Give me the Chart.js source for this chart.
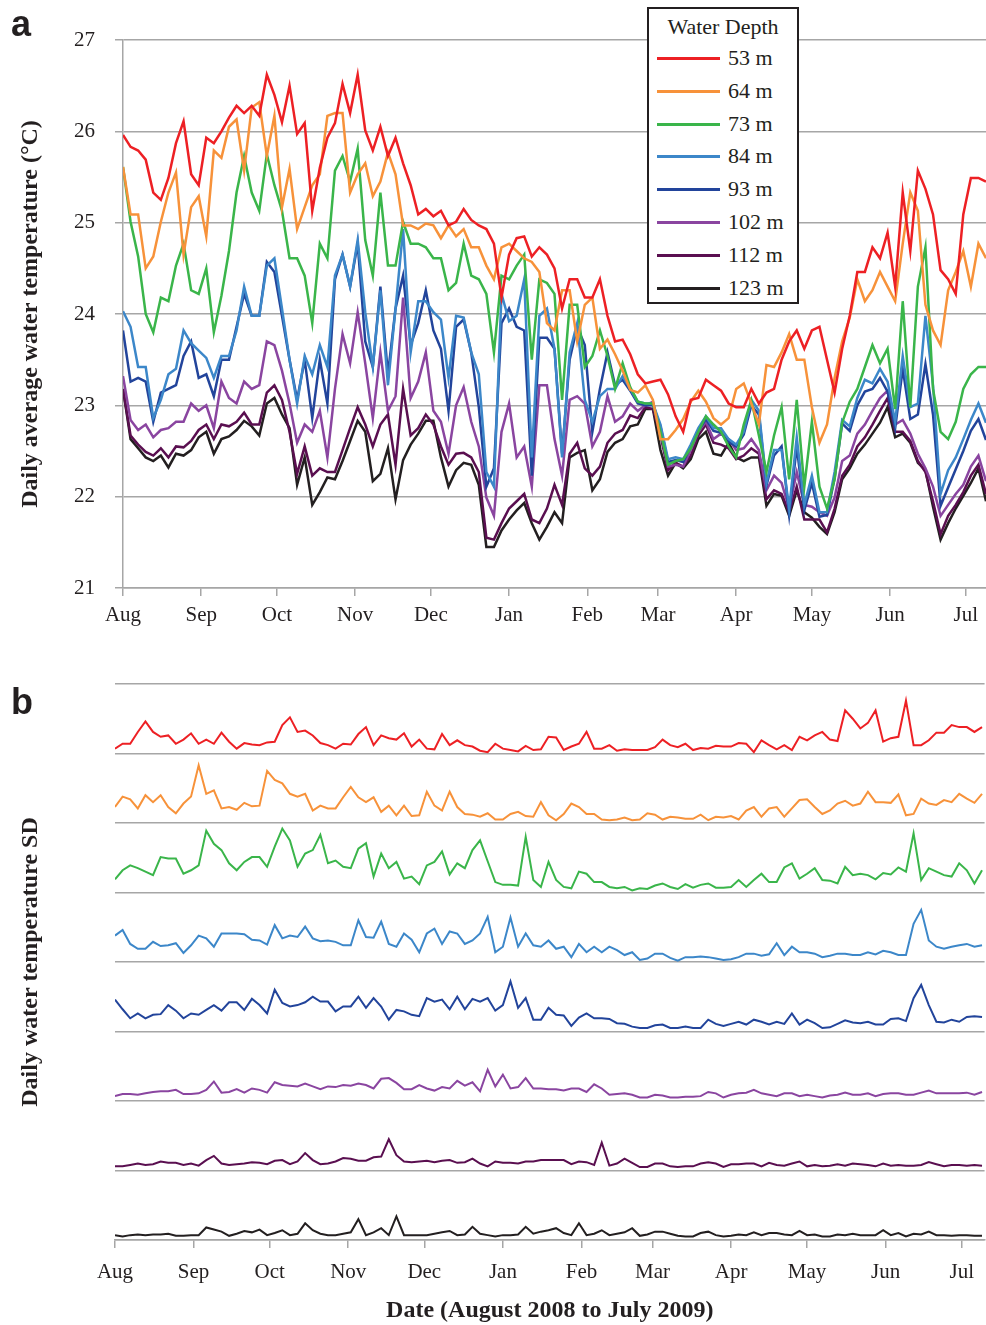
<!DOCTYPE html>
<html lang="en">
<head>
    <meta charset="UTF-8">
    <title>Water temperature by depth</title>
    <script src="https://cdn.jsdelivr.net/npm/chart.js"></script>
    <style>
        body {
            margin: 0;
            background: #fff;
            font-family: 'Liberation Serif', 'Times New Roman', serif;
            color: #231f20;
        }
        #page {
            position: relative;
            width: 986px;
            height: 1325px;
            overflow: hidden;
        }
        #tempChart { position: absolute; left: 0; top: 0; }
        #sdChart { position: absolute; left: 0; top: 650px; }
        .panel {
            position: absolute;
            left: 11px;
            font: bold 36px 'Liberation Sans', Arial, sans-serif;
            line-height: 36px;
        }
        #legend {
            position: absolute;
            left: 647px;
            top: 7px;
            width: 152px;
            height: 297px;
            box-sizing: border-box;
            border: 2px solid #231f20;
            background: #fff;
        }
        #legend .title {
            position: absolute;
            left: 0;
            width: 148px;
            top: 5px;
            text-align: center;
            font-size: 22px;
            line-height: 26px;
        }
        #legend .row {
            position: absolute;
            left: 8px;
            height: 26px;
            font-size: 22px;
            line-height: 26px;
        }
        #legend .swatch {
            position: absolute;
            left: 0;
            top: 12px;
            width: 63px;
            height: 3px;
        }
        #legend .row span {
            position: absolute;
            left: 71px;
            white-space: nowrap;
        }
    </style>
</head>
<body>
<div id="page">
    <canvas id="tempChart" width="986" height="640"></canvas>
    <canvas id="sdChart" width="986" height="675"></canvas>
    <div class="panel" style="top: 6px;">a</div>
    <div class="panel" style="top: 684px;">b</div>
    <div id="legend"><div class="title">Water Depth</div></div>
</div>
<script>
    // day index from 1 Aug 2008, one sample every three days
    const days = [0,3,6,9,12,15,18,21,24,27,30,33,36,39,42,45,48,51,54,57,60,63,66,69,72,75,78,81,
        84,87,90,93,96,99,102,105,108,111,114,117,120,123,126,129,132,135,138,141,144,147,150,153,156,159,162,165,168,
        171,174,177,180,183,186,189,192,195,198,201,204,207,210,213,216,219,222,225,228,231,234,237,240,243,246,249,252,255,
        258,261,264,267,270,273,276,279,282,285,288,291,294,297,300,303,306,309,312,315,318,321,324,327,330,333,336,339,342];

    const monthStarts = [0, 31, 61, 92, 122, 153, 184, 212, 243, 273, 304, 334];
    const monthLabels = ['Aug', 'Sep', 'Oct', 'Nov', 'Dec', 'Jan', 'Feb', 'Mar', 'Apr', 'May', 'Jun', 'Jul'];

    const depthLabels = ['53 m', '64 m', '73 m', '84 m', '93 m', '102 m', '112 m', '123 m'];
    const lineColors = ['#ed2024', '#f7923a', '#3ab54a', '#3c87c9', '#22449b', '#8a45a0', '#5a0f50', '#231f20'];

    // daily average temperature (°C)
    const t53 = [25.96,25.83,25.79,25.69,25.33,25.25,25.49,25.87,26.11,25.53,25.41,25.93,25.87,26.0,26.15,26.28,26.2,26.28,26.17,26.62,26.4,26.1,26.5,25.97,26.09,25.13,25.6,25.93,
        26.09,26.52,26.2,26.62,26.01,25.79,26.05,25.73,25.93,25.65,25.41,25.09,25.15,25.07,25.13,24.97,25.01,25.15,25.03,24.97,24.93,24.77,24.18,24.65,24.83,24.85,24.63,24.73,24.65,
        24.5,24.06,24.38,24.38,24.18,24.18,24.38,23.98,23.7,23.72,23.56,23.34,23.24,23.26,23.28,23.12,22.88,22.71,23.06,23.08,23.28,23.22,23.16,23.02,22.98,22.98,23.18,23.02,23.14,
        23.18,23.5,23.7,23.82,23.62,23.82,23.86,23.5,23.14,23.62,23.98,24.46,24.46,24.73,24.61,24.89,24.3,25.33,24.69,25.57,25.37,25.09,24.48,24.38,24.22,25.09,25.49,25.49,25.45];
    const t64 = [25.61,25.09,25.09,24.5,24.63,25.01,25.33,25.55,24.65,25.17,25.29,24.85,25.79,25.71,26.05,26.13,25.57,26.26,26.32,25.73,26.17,25.17,25.59,24.93,25.17,25.41,25.53,26.17,
        26.2,26.2,25.33,25.53,25.65,25.29,25.45,25.77,25.53,24.97,24.97,24.93,24.99,24.97,24.83,24.97,24.85,24.93,24.73,24.73,24.53,24.38,24.73,24.77,24.69,24.61,24.57,24.46,23.9,
        23.82,24.26,24.26,23.7,24.1,24.18,23.62,23.72,23.56,23.38,23.17,23.14,23.22,23.06,22.63,22.63,22.73,22.85,23.04,23.16,23.04,22.86,22.79,22.86,23.18,23.24,23.02,22.79,23.44,
        23.42,23.58,23.78,23.5,23.5,22.98,22.59,22.79,23.3,23.7,23.96,24.38,24.14,24.26,24.46,24.3,24.14,24.77,25.33,25.13,24.1,23.82,23.66,24.26,24.46,24.69,24.3,24.77,24.61];
    const t73 = [25.61,25.01,24.63,24.0,23.8,24.18,24.14,24.53,24.77,24.26,24.22,24.5,23.8,24.2,24.69,25.33,25.73,25.33,25.13,25.75,25.41,25.13,24.61,24.61,24.42,23.9,24.77,24.61,
        25.57,25.73,25.45,25.81,24.81,24.42,25.33,24.53,24.53,25.01,24.77,24.77,24.73,24.61,24.61,24.26,24.34,24.77,24.42,24.38,24.22,23.58,24.42,24.38,24.53,24.65,23.5,24.38,24.34,
        24.22,23.06,24.1,24.1,23.42,23.54,23.82,23.54,23.18,23.46,23.2,23.04,23.02,23.02,22.71,22.35,22.39,22.41,22.53,22.71,22.88,22.79,22.71,22.55,22.43,22.79,23.06,22.67,22.27,
        22.67,22.98,22.19,23.06,22.11,22.82,22.11,21.87,22.19,22.81,23.04,23.18,23.42,23.66,23.46,23.62,22.96,24.14,22.98,24.3,24.73,23.18,22.71,22.63,22.82,23.18,23.34,23.42,23.42];
    const t84 = [24.03,23.86,23.42,23.42,22.86,23.06,23.34,23.4,23.82,23.68,23.6,23.52,23.3,23.54,23.54,23.82,24.3,23.98,23.98,24.53,24.61,24.06,23.5,23.02,23.54,23.34,23.66,23.42,
        24.42,24.65,24.3,24.81,24.02,23.42,24.26,23.22,24.06,24.93,23.58,24.14,24.14,24.02,23.94,23.3,23.98,23.96,23.58,23.34,22.27,22.11,24.22,23.92,23.98,24.38,22.43,23.98,24.06,
        23.62,22.43,23.58,23.9,23.06,22.82,23.1,23.18,23.18,23.32,23.18,23.04,23.02,23.02,22.79,22.41,22.43,22.41,22.57,22.75,22.88,22.75,22.75,22.63,22.57,22.71,23.06,22.94,22.15,
        22.51,22.51,21.87,22.65,21.91,22.23,21.83,21.83,22.27,22.84,22.77,23.08,23.28,23.24,23.4,23.26,22.82,23.54,22.98,23.02,23.98,23.22,22.03,22.29,22.43,22.63,22.84,23.02,22.81];
    const t93 = [23.82,23.26,23.3,23.26,22.82,23.14,23.18,23.22,23.54,23.7,23.3,23.34,23.1,23.5,23.5,23.86,24.22,23.98,23.98,24.57,24.46,23.98,23.5,23.06,23.5,22.86,23.5,23.02,
        24.38,24.65,24.3,24.77,23.7,23.42,24.3,23.34,24.06,24.42,23.66,23.9,24.26,23.82,23.62,22.94,23.86,23.94,23.58,22.98,22.11,22.31,23.9,24.06,23.86,23.82,22.23,23.74,23.74,
        23.62,22.47,23.5,23.86,23.66,22.71,23.18,23.58,23.22,23.28,23.16,23.02,23.0,23.0,22.77,22.38,22.4,22.38,22.55,22.72,22.85,22.72,22.7,22.6,22.55,22.68,23.0,22.9,22.12,
        22.45,22.55,21.8,22.55,21.85,22.15,21.78,21.8,22.2,22.8,22.72,23.0,23.15,23.18,23.3,23.15,22.75,23.4,22.85,22.9,23.45,22.9,21.9,22.1,22.3,22.5,22.72,22.85,22.62];
    const t102 = [23.32,22.84,22.73,22.79,22.65,22.73,22.75,22.82,22.82,23.02,22.94,23.0,22.75,23.26,23.08,23.02,23.26,23.18,23.22,23.7,23.66,23.38,23.02,22.59,22.79,22.71,22.94,22.43,
        23.18,23.78,23.46,24.02,23.46,22.86,23.58,22.94,23.1,24.18,23.08,23.26,23.58,22.94,22.82,22.47,23.0,23.2,22.82,22.55,21.99,21.79,22.71,23.02,22.43,22.55,22.11,23.22,23.22,
        22.63,22.23,23.06,23.1,23.02,22.55,22.71,23.1,22.82,22.88,23.02,22.94,23.0,23.04,22.71,22.33,22.35,22.33,22.51,22.71,22.82,22.63,22.69,22.63,22.51,22.53,22.63,22.51,22.07,
        22.23,22.15,21.87,22.27,21.91,21.89,21.83,21.79,21.99,22.39,22.45,22.69,22.79,22.94,23.08,23.16,22.79,22.84,22.69,22.47,22.31,22.11,21.79,21.91,22.03,22.13,22.33,22.45,22.17];
    const t112 = [23.18,22.67,22.57,22.49,22.45,22.53,22.43,22.55,22.54,22.61,22.73,22.79,22.63,22.79,22.77,22.82,22.92,22.79,22.79,23.14,23.22,23.06,22.71,22.25,22.55,22.23,22.31,22.27,
        22.27,22.51,22.75,22.98,22.79,22.55,22.79,22.9,22.35,23.18,22.67,22.75,22.9,22.79,22.55,22.35,22.47,22.48,22.43,22.27,21.55,21.53,21.71,21.87,21.95,22.03,21.75,21.71,21.87,
        22.13,21.91,22.47,22.59,22.31,22.23,22.33,22.59,22.69,22.73,22.89,22.86,22.98,22.96,22.67,22.29,22.37,22.33,22.45,22.67,22.79,22.59,22.57,22.53,22.41,22.45,22.53,22.47,21.97,
        22.07,22.03,21.83,22.11,21.75,21.75,21.75,21.61,21.87,22.23,22.35,22.55,22.65,22.79,22.94,23.08,22.71,22.71,22.61,22.39,22.27,21.95,21.59,21.79,21.91,22.05,22.23,22.35,22.03];
    const t123 = [23.18,22.63,22.53,22.43,22.39,22.45,22.32,22.47,22.45,22.51,22.65,22.71,22.47,22.63,22.66,22.73,22.83,22.77,22.67,23.02,23.08,22.9,22.75,22.13,22.43,21.91,22.05,22.21,
        22.19,22.39,22.61,22.83,22.71,22.17,22.25,22.53,21.97,22.4,22.57,22.69,22.83,22.83,22.43,22.11,22.29,22.37,22.35,22.13,21.45,21.45,21.63,21.75,21.85,21.93,21.71,21.53,21.67,
        21.83,21.71,22.43,22.48,22.51,22.07,22.19,22.49,22.59,22.63,22.77,22.79,22.96,22.96,22.51,22.23,22.37,22.31,22.41,22.63,22.71,22.47,22.45,22.59,22.43,22.39,22.43,22.43,21.9,
        22.03,22.01,21.79,22.07,21.83,21.77,21.67,21.59,21.83,22.19,22.31,22.47,22.57,22.69,22.81,22.98,22.65,22.69,22.59,22.37,22.29,21.89,21.53,21.71,21.87,22.01,22.15,22.31,21.95];

    // daily temperature SD, in units of one panel row (the figure has no SD scale)
    const sd53 = [0.07,0.14,0.14,0.31,0.46,0.31,0.24,0.26,0.14,0.2,0.29,0.14,0.2,0.14,0.3,0.17,0.07,0.15,0.13,0.12,0.16,0.17,0.41,0.52,0.31,0.33,0.26,0.15,
        0.12,0.07,0.14,0.13,0.28,0.38,0.12,0.26,0.22,0.2,0.29,0.1,0.2,0.07,0.06,0.28,0.12,0.19,0.12,0.1,0.04,0.02,0.14,0.07,0.05,0.03,0.11,0.05,0.06,
        0.24,0.23,0.05,0.1,0.14,0.31,0.07,0.07,0.12,0.04,0.06,0.05,0.05,0.05,0.09,0.2,0.12,0.09,0.14,0.05,0.08,0.07,0.11,0.1,0.1,0.15,0.14,0.02,0.19,
        0.12,0.06,0.12,0.05,0.24,0.19,0.26,0.31,0.2,0.18,0.62,0.5,0.36,0.44,0.62,0.17,0.22,0.24,0.76,0.12,0.12,0.19,0.3,0.3,0.41,0.38,0.38,0.31,0.38];
    const sd64 = [0.23,0.38,0.34,0.21,0.4,0.3,0.4,0.23,0.14,0.28,0.38,0.83,0.42,0.47,0.21,0.23,0.19,0.29,0.24,0.25,0.75,0.62,0.57,0.42,0.38,0.42,0.18,0.25,
        0.21,0.21,0.37,0.52,0.37,0.3,0.37,0.16,0.25,0.11,0.25,0.1,0.11,0.45,0.25,0.18,0.45,0.23,0.13,0.12,0.09,0.14,0.05,0.05,0.13,0.16,0.1,0.09,0.3,
        0.11,0.04,0.13,0.28,0.23,0.13,0.13,0.05,0.04,0.05,0.08,0.04,0.05,0.14,0.12,0.05,0.09,0.08,0.06,0.06,0.12,0.04,0.09,0.08,0.1,0.05,0.18,0.23,0.09,
        0.21,0.23,0.09,0.21,0.33,0.34,0.23,0.13,0.18,0.28,0.32,0.25,0.28,0.45,0.3,0.3,0.29,0.41,0.11,0.13,0.35,0.28,0.26,0.33,0.3,0.42,0.35,0.29,0.42];
    const sd73 = [0.19,0.32,0.39,0.35,0.3,0.25,0.51,0.49,0.49,0.27,0.32,0.39,0.89,0.7,0.61,0.42,0.32,0.44,0.51,0.51,0.37,0.66,0.92,0.75,0.37,0.56,0.61,0.83,
        0.42,0.46,0.37,0.35,0.63,0.71,0.23,0.56,0.35,0.44,0.2,0.23,0.12,0.39,0.44,0.59,0.26,0.42,0.35,0.61,0.75,0.45,0.15,0.11,0.11,0.1,0.8,0.18,0.08,
        0.44,0.18,0.08,0.06,0.3,0.27,0.15,0.15,0.08,0.06,0.08,0.03,0.06,0.05,0.1,0.13,0.08,0.05,0.12,0.07,0.11,0.13,0.07,0.07,0.08,0.18,0.08,0.18,0.27,
        0.15,0.15,0.36,0.42,0.2,0.27,0.35,0.18,0.17,0.13,0.37,0.25,0.27,0.25,0.19,0.28,0.26,0.36,0.3,0.85,0.18,0.35,0.3,0.25,0.23,0.42,0.32,0.13,0.32];
    const sd84 = [0.38,0.46,0.26,0.19,0.19,0.29,0.23,0.24,0.27,0.13,0.24,0.38,0.34,0.22,0.41,0.41,0.41,0.4,0.32,0.31,0.25,0.53,0.34,0.38,0.36,0.51,0.34,0.3,
        0.31,0.29,0.24,0.24,0.6,0.36,0.35,0.58,0.26,0.22,0.41,0.32,0.14,0.41,0.48,0.26,0.44,0.41,0.26,0.31,0.41,0.65,0.14,0.22,0.64,0.22,0.41,0.24,0.22,
        0.31,0.19,0.22,0.07,0.26,0.14,0.22,0.14,0.22,0.17,0.1,0.14,0.03,0.05,0.12,0.12,0.06,0.02,0.07,0.07,0.08,0.07,0.05,0.03,0.04,0.07,0.12,0.12,0.09,
        0.11,0.27,0.1,0.22,0.14,0.14,0.12,0.07,0.09,0.12,0.12,0.1,0.1,0.14,0.11,0.16,0.14,0.1,0.1,0.55,0.75,0.31,0.22,0.19,0.22,0.24,0.26,0.22,0.24];
    const sd93 = [0.46,0.32,0.19,0.26,0.19,0.24,0.25,0.38,0.3,0.19,0.26,0.24,0.31,0.38,0.3,0.42,0.42,0.31,0.47,0.38,0.26,0.6,0.41,0.36,0.38,0.42,0.5,0.43,
        0.43,0.29,0.36,0.36,0.5,0.34,0.48,0.36,0.17,0.31,0.29,0.24,0.22,0.48,0.43,0.46,0.32,0.5,0.32,0.47,0.43,0.48,0.3,0.38,0.72,0.34,0.48,0.17,0.17,
        0.34,0.24,0.23,0.08,0.2,0.26,0.19,0.19,0.18,0.12,0.11,0.07,0.05,0.05,0.09,0.1,0.05,0.05,0.07,0.05,0.05,0.17,0.11,0.08,0.11,0.14,0.1,0.17,0.14,
        0.1,0.14,0.11,0.26,0.1,0.17,0.12,0.05,0.06,0.11,0.16,0.13,0.12,0.14,0.1,0.1,0.18,0.19,0.15,0.48,0.67,0.38,0.14,0.13,0.17,0.14,0.21,0.22,0.21];
    const sd102 = [0.07,0.1,0.1,0.09,0.11,0.13,0.14,0.14,0.16,0.1,0.1,0.11,0.16,0.28,0.12,0.13,0.17,0.12,0.18,0.16,0.12,0.27,0.23,0.22,0.21,0.25,0.21,0.17,
        0.21,0.2,0.23,0.22,0.25,0.23,0.18,0.32,0.33,0.26,0.17,0.17,0.23,0.18,0.15,0.2,0.18,0.29,0.22,0.27,0.14,0.45,0.21,0.38,0.18,0.2,0.33,0.18,0.18,
        0.17,0.17,0.15,0.18,0.18,0.13,0.24,0.18,0.09,0.1,0.11,0.09,0.05,0.05,0.09,0.08,0.05,0.05,0.06,0.06,0.07,0.13,0.11,0.05,0.09,0.11,0.12,0.16,0.11,
        0.09,0.07,0.11,0.11,0.07,0.09,0.07,0.05,0.08,0.09,0.12,0.09,0.09,0.11,0.07,0.1,0.11,0.11,0.09,0.09,0.12,0.15,0.11,0.11,0.11,0.11,0.12,0.09,0.13];
    const sd112 = [0.06,0.06,0.08,0.1,0.08,0.09,0.13,0.11,0.11,0.08,0.1,0.07,0.15,0.21,0.1,0.08,0.09,0.1,0.12,0.11,0.09,0.14,0.15,0.09,0.13,0.25,0.15,0.09,
        0.1,0.13,0.18,0.17,0.14,0.14,0.19,0.2,0.45,0.22,0.13,0.12,0.13,0.14,0.12,0.14,0.15,0.11,0.12,0.17,0.1,0.06,0.13,0.11,0.11,0.1,0.13,0.13,0.15,
        0.15,0.15,0.15,0.09,0.13,0.12,0.08,0.4,0.07,0.1,0.17,0.11,0.05,0.05,0.1,0.1,0.06,0.05,0.06,0.06,0.1,0.12,0.1,0.05,0.09,0.09,0.1,0.1,0.06,
        0.11,0.08,0.07,0.1,0.13,0.06,0.08,0.06,0.07,0.09,0.07,0.1,0.09,0.08,0.06,0.1,0.07,0.08,0.07,0.07,0.08,0.12,0.09,0.06,0.08,0.08,0.07,0.08,0.07];
    const sd123 = [0.07,0.05,0.07,0.08,0.07,0.08,0.08,0.09,0.06,0.06,0.07,0.07,0.18,0.15,0.12,0.06,0.09,0.13,0.11,0.15,0.07,0.1,0.14,0.07,0.09,0.24,0.14,0.09,
        0.07,0.07,0.09,0.11,0.3,0.07,0.11,0.17,0.07,0.34,0.07,0.07,0.07,0.07,0.09,0.11,0.13,0.07,0.08,0.19,0.09,0.07,0.05,0.07,0.07,0.08,0.19,0.09,0.12,
        0.14,0.17,0.1,0.07,0.24,0.07,0.09,0.14,0.07,0.09,0.11,0.17,0.06,0.08,0.12,0.12,0.09,0.06,0.05,0.05,0.1,0.12,0.07,0.05,0.06,0.08,0.07,0.11,0.07,
        0.1,0.1,0.08,0.07,0.13,0.07,0.08,0.05,0.05,0.08,0.07,0.09,0.07,0.07,0.07,0.14,0.07,0.1,0.05,0.09,0.08,0.12,0.07,0.07,0.06,0.07,0.07,0.06,0.06];

    const tempSeries = [t53, t64, t73, t84, t93, t102, t112, t123];
    const sdSeries = [sd53, sd64, sd73, sd84, sd93, sd102, sd112, sd123];

    const serif = "'Liberation Serif', 'Times New Roman', serif";
    const axisGray = '#a6a6a6';
    const ink = '#231f20';
    Chart.defaults.font.family = serif;
    Chart.defaults.color = ink;

    function monthAxis(maxDay, height, labelPad, title) {
        return {
            type: 'linear',
            min: 0,
            max: maxDay,
            afterBuildTicks: (scale) => { scale.ticks = monthStarts.map(v => ({ value: v })); },
            afterFit: (scale) => { scale.height = height; },
            ticks: {
                autoSkip: false,
                maxRotation: 0,
                padding: labelPad,
                font: { size: 21 },
                callback: (value) => monthLabels[monthStarts.indexOf(value)]
            },
            grid: { drawOnChartArea: false, tickLength: 8, color: axisGray, lineWidth: 1.5 },
            border: { color: axisGray, width: 1.5 },
            title: title
        };
    }

    // panel a: daily average temperature
    new Chart(document.getElementById('tempChart'), {
        type: 'line',
        data: {
            datasets: tempSeries.map((arr, i) => ({
                label: depthLabels[i],
                data: days.map((d, j) => ({ x: d, y: arr[j] })),
                borderColor: lineColors[i],
                borderWidth: 2.5,
                pointRadius: 0,
                tension: 0
            }))
        },
        options: {
            responsive: false,
            animation: false,
            layout: { padding: { top: 40, right: 0, bottom: 0, left: 0 } },
            plugins: { legend: { display: false }, tooltip: { enabled: false } },
            scales: {
                x: monthAxis(342, 52, 7, { display: false }),
                y: {
                    min: 21,
                    max: 27,
                    afterFit: (scale) => { scale.width = 123; },
                    ticks: { stepSize: 1, padding: 20, font: { size: 21 } },
                    grid: { color: axisGray, lineWidth: 1.5, tickLength: 8 },
                    border: { color: axisGray, width: 1.5 },
                    title: {
                        display: true,
                        text: 'Daily average water temperature (°C)',
                        font: { size: 24, weight: 'bold' },
                        padding: { top: 16, bottom: 0 }
                    }
                }
            }
        }
    });

    // panel b: daily SD, one row per depth
    new Chart(document.getElementById('sdChart'), {
        type: 'line',
        data: {
            datasets: sdSeries.map((arr, i) => {
                const base = sdSeries.length - 1 - i;
                return {
                    label: depthLabels[i],
                    data: days.map((d, j) => ({ x: d, y: base + arr[j] })),
                    borderColor: lineColors[i],
                    borderWidth: 2,
                    pointRadius: 0,
                    tension: 0
                };
            })
        },
        options: {
            responsive: false,
            animation: false,
            layout: { padding: { top: 34, right: 0, bottom: 0, left: 0 } },
            plugins: { legend: { display: false }, tooltip: { enabled: false } },
            scales: {
                x: monthAxis(343, 85, 12, {
                    display: true,
                    text: 'Date (August 2008 to July 2009)',
                    font: { size: 24, weight: 'bold' },
                    padding: { top: 0, bottom: 0 }
                }),
                y: {
                    min: 0,
                    max: 8,
                    afterFit: (scale) => { scale.width = 115; },
                    ticks: { stepSize: 1, display: false },
                    grid: { color: axisGray, lineWidth: 1.5, drawTicks: false },
                    border: { display: false },
                    title: {
                        display: true,
                        text: 'Daily water temperature SD',
                        font: { size: 24, weight: 'bold' },
                        padding: { top: 16, bottom: 0 }
                    }
                }
            }
        }
    });

    // legend box drawn over panel a
    const legend = document.getElementById('legend');
    depthLabels.forEach((lab, i) => {
        const row = document.createElement('div');
        row.className = 'row';
        row.style.top = (36 + i * 32.8) + 'px';
        row.innerHTML = '<div class="swatch" style="background:' + lineColors[i] + '"></div><span>' + lab + '</span>';
        legend.appendChild(row);
    });
</script>
</body>
</html>
